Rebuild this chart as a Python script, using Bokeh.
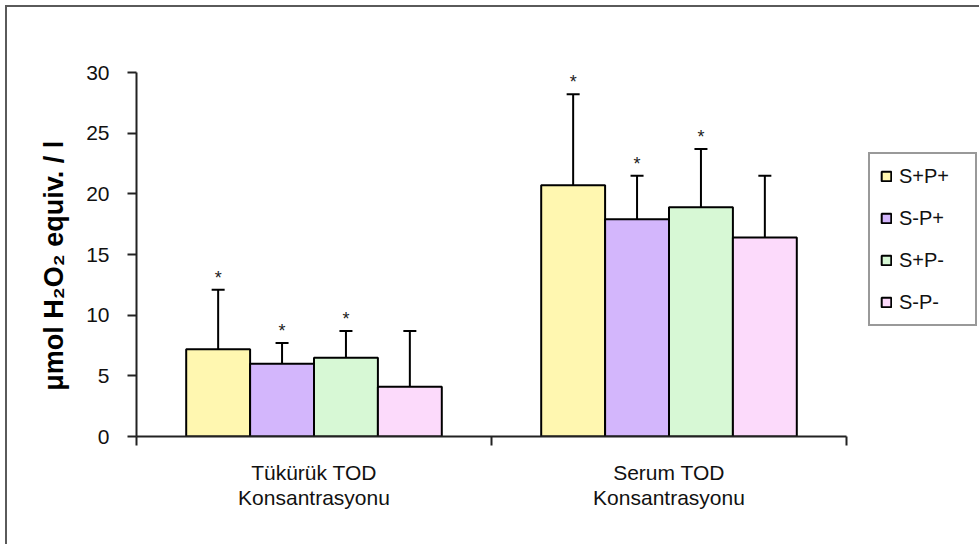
from bokeh.plotting import figure
from bokeh.models import (Range1d, FixedTicker, Legend, LegendItem, ColumnDataSource,
                          Whisker, TeeHead)
from bokeh.core.properties import value
from bokeh.embed import file_html
from bokeh.resources import INLINE

# ---- data ----
categories = ["Tükürük TOD\nKonsantrasyonu", "Serum TOD\nKonsantrasyonu"]
series = ["S+P+", "S-P+", "S+P-", "S-P-"]
mean_spp = [7.2, 20.7]
mean_smp = [6.0, 17.9]
mean_spm = [6.5, 18.9]
mean_smm = [4.1, 16.4]
upper_spp = [12.1, 28.2]
upper_smp = [7.7, 21.5]
upper_spm = [8.7, 23.7]
upper_smm = [8.7, 21.5]
star_spp = ["*", "*"]
star_smp = ["*", "*"]
star_spm = ["*", "*"]
star_smm = ["", ""]
y_ticks = [0, 5, 10, 15, 20, 25, 30]

means = [mean_spp, mean_smp, mean_spm, mean_smm]
uppers = [upper_spp, upper_smp, upper_spm, upper_smm]
stars = [star_spp, star_smp, star_spm, star_smm]
colors = ["#FFF7B0", "#D3B6FC", "#D7F8D5", "#FCDAFB"]

FONT = "Liberation Sans"

p = figure(frame_width=710, frame_height=364, output_backend="svg", toolbar_location=None,
           x_range=Range1d(0, 2), y_range=Range1d(0, 30),
           min_border_left=129, min_border_right=0, min_border_top=65, min_border_bottom=108)
p.styles = {"margin-left": "5px", "margin-top": "5px",
            "border-left": "2px solid #5a5a5a", "border-top": "2px solid #5a5a5a"}
p.outline_line_color = None
p.xgrid.visible = False
p.ygrid.visible = False
p.background_fill_color = "white"
p.border_fill_color = "white"

n = len(series)
bw = 0.18
items = []
for k in range(n):
    xs = [i + 0.5 + (k - (n - 1) / 2) * bw for i in range(len(categories))]
    src = ColumnDataSource(dict(x=xs, top=means[k], up=uppers[k], star=stars[k]))
    r = p.vbar(x="x", top="top", width=bw, bottom=0, source=src,
               fill_color=colors[k], line_color="black", line_width=2)
    w = Whisker(base="x", lower="top", upper="up", source=src, dimension="height",
                line_color="black", line_width=2, lower_head=None,
                upper_head=TeeHead(size=13, line_color="black", line_width=2))
    p.add_layout(w)
    p.text(x="x", y="up", text="star", source=src, text_align="center",
           text_baseline="middle", y_offset=-12, text_font=value(FONT),
           text_font_size="18px", text_color="#222")
    items.append(LegendItem(label=series[k], renderers=[r]))

legend = Legend(items=items, location=(22, 110), orientation="vertical",
                glyph_width=12, glyph_height=12, label_height=24, label_width=66,
                spacing=18, padding=10, label_standoff=7, margin=0,
                label_text_font=FONT, label_text_font_size="20px", label_text_color="#111",
                border_line_color="#333", border_line_width=2,
                background_fill_color="white", background_fill_alpha=1.0)
p.add_layout(legend, "right")

# y axis
ya = p.yaxis[0]
ya.ticker = FixedTicker(ticks=y_ticks, minor_ticks=[])
ya.major_tick_out = 9
ya.major_tick_in = 0
ya.major_tick_line_width = 2
ya.major_tick_line_color = "#222"
ya.axis_line_width = 2
ya.axis_line_color = "#222"
ya.major_label_text_font = FONT
ya.major_label_text_font_size = "21px"
ya.major_label_text_color = "#111"
ya.major_label_standoff = 18
ya.axis_label = "μmol H₂O₂ equiv. / l\u00a0\u00a0\u00a0"
ya.axis_label_text_font = FONT
ya.axis_label_text_font_style = "bold"
ya.axis_label_text_font_size = "27px"
ya.axis_label_text_color = "#000"
ya.axis_label_standoff = 14

# x axis
xa = p.xaxis[0]
xa.ticker = FixedTicker(ticks=[i + 0.5 for i in range(len(categories))],
                        minor_ticks=[i for i in range(len(categories) + 1)])
xa.major_label_overrides = {i + 0.5: c for i, c in enumerate(categories)}
xa.major_tick_out = 0
xa.major_tick_in = 0
xa.minor_tick_out = 9
xa.minor_tick_in = 0
xa.minor_tick_line_width = 2
xa.minor_tick_line_color = "#222"
xa.axis_line_width = 2
xa.axis_line_color = "#222"
xa.major_label_text_font = FONT
xa.major_label_text_font_size = "21px"
xa.major_label_text_color = "#111"
xa.major_label_text_line_height = 1.1
xa.major_label_standoff = 15

open("out.html", "w").write(file_html(p, INLINE))
